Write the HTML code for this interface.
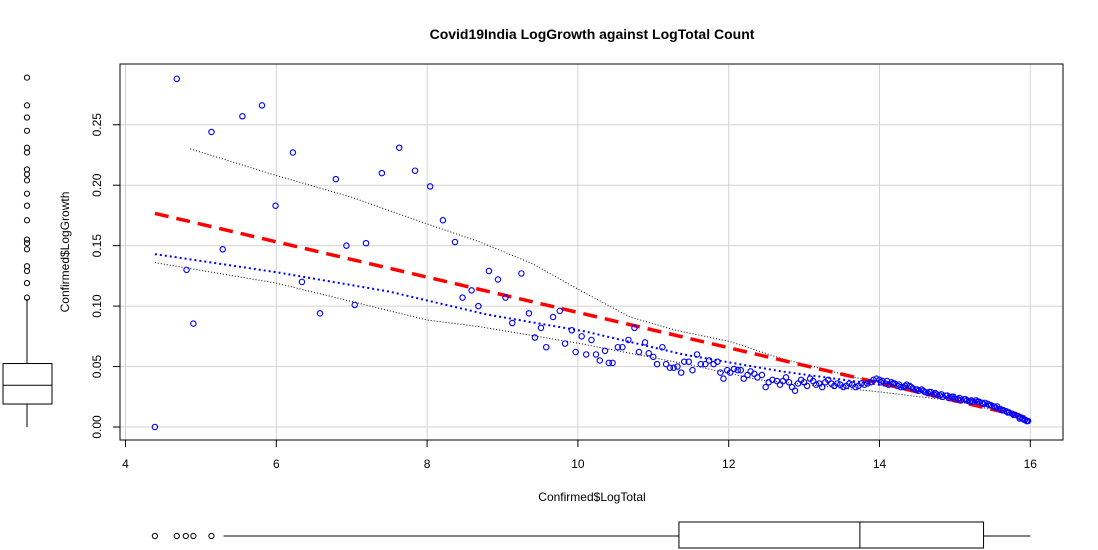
<!DOCTYPE html>
<html><head><meta charset="utf-8"><style>
body{margin:0;background:#fff;}
svg{display:block;font-family:"Liberation Sans",Arial,sans-serif;}
</style></head><body>
<svg id="chart" width="1098" height="550" viewBox="0 0 1098 550" xmlns="http://www.w3.org/2000/svg">
<text x="592" y="39" text-anchor="middle" font-size="14" font-weight="bold">Covid19India LogGrowth against LogTotal Count</text>
<g id="grid"></g>
<g id="lines"></g>
<g id="points"></g>
<rect x="120" y="64" width="943" height="376" fill="none" stroke="#000" stroke-width="1"/>
<g id="axes"></g>
<text x="592" y="501" text-anchor="middle" font-size="12">Confirmed$LogTotal</text>
<text transform="translate(69,252) rotate(-90)" text-anchor="middle" font-size="12">Confirmed$LogGrowth</text>
<g id="boxes"></g>
</svg>
<script>
const xs = [4.39,4.68,4.81,4.90,5.14,5.29,5.55,5.81,5.99,6.22,6.34,6.58,6.79,6.93,7.04,7.19,7.40,7.63,7.84,8.04,8.21,8.37,8.47,8.59,8.68,8.82,8.94,9.04,9.13,9.25,9.35,9.43,9.51,9.58,9.67,9.76,9.83,9.92,9.97,10.05,10.11,10.18,10.24,10.29,10.36,10.41,10.46,10.53,10.59,10.67,10.75,10.81,10.89,10.94,11.00,11.05,11.12,11.17,11.22,11.27,11.32,11.37,11.41,11.47,11.52,11.58,11.63,11.69,11.74,11.80,11.85,11.89,11.93,11.98,12.02,12.07,12.12,12.16,12.20,12.25,12.29,12.34,12.38,12.44,12.49,12.53,12.58,12.64,
12.68,12.72,12.76,12.80,12.84,12.88,12.92,12.96,13.00,13.04,13.08,13.12,13.16,13.20,13.24,13.28,13.32,13.36,13.40,13.44,13.48,13.52,13.56,13.60,13.64,13.68,13.72,13.76,13.80,13.84,13.88,13.92,13.96,14.00,14.04,14.08,14.12,14.16,14.20,14.24,14.28,14.32,14.36,14.40,14.44,14.48,14.52,14.56,14.60,14.64,14.68,14.72,14.76,14.80,14.84,14.88,14.92,14.96,15.00,15.04,15.08,15.12,15.16,15.20,15.24,15.28,15.32,15.36,15.40,15.44,15.48,15.52,15.56,15.60,15.64,15.68,15.72,15.76,15.80,15.84,15.87,15.90,15.93,15.96,15.97,
14.02,14.10,14.18,14.26,14.34,14.42,14.50,14.58,14.66,14.74,14.82,14.90,14.98,15.06,15.14,15.22,15.30,15.38,15.46,15.54,15.62,15.70,15.78,15.86,15.92,15.95];
const ys = [0.000,0.288,0.130,0.0855,0.244,0.147,0.257,0.266,0.183,0.227,0.120,0.094,0.205,0.150,0.101,0.152,0.210,0.231,0.212,0.199,0.171,0.153,0.107,0.113,0.100,0.129,0.122,0.107,0.086,0.127,0.094,0.074,0.082,0.066,0.091,0.096,0.069,0.080,0.062,0.075,0.060,0.072,0.060,0.055,0.063,0.053,0.053,0.066,0.066,0.072,0.082,0.062,0.070,0.061,0.058,0.052,0.066,0.052,0.049,0.049,0.050,0.045,0.054,0.054,0.047,0.060,0.052,0.052,0.055,0.052,0.054,0.045,0.040,0.047,0.045,0.048,0.047,0.047,0.040,0.043,0.046,0.044,0.041,0.043,0.033,0.037,0.039,0.038,
0.035,0.038,0.041,0.037,0.033,0.030,0.036,0.039,0.037,0.034,0.040,0.038,0.035,0.036,0.033,0.037,0.039,0.036,0.034,0.036,0.035,0.033,0.034,0.036,0.035,0.033,0.034,0.036,0.035,0.036,0.037,0.039,0.040,0.039,0.038,0.036,0.035,0.037,0.036,0.034,0.033,0.033,0.035,0.034,0.032,0.031,0.030,0.031,0.029,0.028,0.029,0.027,0.027,0.026,0.025,0.026,0.024,0.025,0.023,0.023,0.022,0.023,0.022,0.021,0.021,0.022,0.021,0.020,0.020,0.019,0.018,0.017,0.017,0.015,0.014,0.013,0.012,0.011,0.010,0.009,0.008,0.007,0.006,0.005,0.005,
0.037,0.038,0.036,0.035,0.034,0.033,0.031,0.030,0.029,0.028,0.027,0.026,0.025,0.024,0.023,0.022,0.021,0.019,0.018,0.016,0.014,0.012,0.010,0.007,0.006,0.005];
const smoothX = [4.39,6,7.5,8.8,10.1,11.4,12.7,14,15,15.5,15.97];
const smoothY = [0.143,0.128,0.112,0.093,0.079,0.060,0.046,0.035,0.025,0.018,0.006];
const upperX = [4.86,6,7,8,8.7,9.4,10.03,10.69,11.3,12.02,12.68,13.74,14.63,15.51,15.95];
const upperY = [0.230,0.208,0.190,0.168,0.153,0.135,0.113,0.091,0.080,0.0706,0.057,0.040,0.028,0.0155,0.0066];
const lowerX = [4.39,6,8,8.7,10.03,11.36,12.4,14,15.07,15.95];
const lowerY = [0.136,0.119,0.0885,0.083,0.069,0.053,0.039,0.029,0.021,0.0066];
const fitEnds = [4.39,15.97];
const fitIntercept = 0.2408;
const fitSlope = -0.0146;
const xTicks = [4,6,8,10,12,14,16];
const yTicks = [0,0.05,0.10,0.15,0.20,0.25];
const yTickLabels = ["0.00","0.05","0.10","0.15","0.20","0.25"];
const yBox = [0.0, 0.019, 0.0345, 0.0525, 0.106];
const yOutliers = [0.289,0.266,0.256,0.245,0.231,0.227,0.213,0.209,0.204,0.193,0.183,0.171,0.155,0.152,0.147,0.133,0.129,0.119,0.107];
const xBox = [5.30, 11.34, 13.74, 15.38, 16.0];
const xOutliers = [4.39,4.68,4.80,4.90,5.14];

const NS="http://www.w3.org/2000/svg";
const px = v => 125.5 + 75.4*(v-4);
const py = v => 427 - 1209*v;
function mk(tag, attrs, parent){const e=document.createElementNS(NS,tag);for(const k in attrs)e.setAttribute(k,attrs[k]);parent.appendChild(e);return e;}
const grid=document.getElementById('grid'), axes=document.getElementById('axes');
xTicks.forEach(t=>{
  const g=mk('line',{x1:px(t),x2:px(t),y1:64,y2:440,stroke:'#d3d3d3','stroke-width':1},grid);
  
  
  const tk=mk('line',{x1:px(t),x2:px(t),y1:440,y2:447,stroke:'#000'},axes);
  
  
  const tx=mk('text',{x:px(t),y:468,'text-anchor':'middle','font-size':12},axes);
  
  
  tx.textContent=t;
});
yTicks.forEach((t,i)=>{
  const g=mk('line',{x1:120,x2:1063,y1:py(t),y2:py(t),stroke:'#d3d3d3','stroke-width':1},grid);
  
  
  const tk=mk('line',{x1:113,x2:120,y1:py(t),y2:py(t),stroke:'#000'},axes);
  
  
  const tx=mk('text',{transform:`translate(101,${py(t)}) rotate(-90)`,'text-anchor':'middle','font-size':12},axes);
  
  
  tx.textContent=yTickLabels[i];
});
const lines=document.getElementById('lines');
function poly(X,Y,attrs,name){
  const pts=X.map((x,i)=>px(x).toFixed(1)+','+py(Y[i]).toFixed(1)).join(' ');
  const p=mk('polyline',Object.assign({points:pts,fill:'none'},attrs),lines);
  
  
}
poly(upperX,upperY,{stroke:'#000','stroke-width':1,'stroke-dasharray':'1,2'},'spread-upper-line');
poly(lowerX,lowerY,{stroke:'#000','stroke-width':1,'stroke-dasharray':'1,2'},'spread-lower-line');
poly(smoothX,smoothY,{stroke:'#0000ff','stroke-width':2,'stroke-dasharray':'2,3'},'smoother-line');
poly(fitEnds,fitEnds.map(x=>fitIntercept+fitSlope*x),{stroke:'#ff0000','stroke-width':3.5,'stroke-dasharray':'14,8'},'regression-line');
const pg=document.getElementById('points');
xs.forEach((x,i)=>{
  const c=mk('circle',{cx:px(x),cy:py(ys[i]),r:2.7,fill:'none',stroke:'#0000ff','stroke-width':1.1},pg);
  
  
});
const bx=document.getElementById('boxes');
const lx=27;
let e;
e=mk('line',{x1:lx,x2:lx,y1:py(yBox[4]),y2:py(yBox[3]),stroke:'#000'},bx);


e=mk('line',{x1:lx,x2:lx,y1:py(yBox[1]),y2:py(yBox[0]),stroke:'#000'},bx);


e=mk('rect',{x:3,y:py(yBox[3]),width:49,height:py(yBox[1])-py(yBox[3]),fill:'none',stroke:'#000'},bx);


e=mk('line',{x1:3,x2:52,y1:py(yBox[2]),y2:py(yBox[2]),stroke:'#000'},bx);


yOutliers.forEach(v=>{
  const c=mk('circle',{cx:lx,cy:py(v),r:2.6,fill:'none',stroke:'#000'},bx);
  
  
});
const by=536;
e=mk('line',{x1:px(xBox[0]),x2:px(xBox[1]),y1:by,y2:by,stroke:'#000'},bx);


e=mk('line',{x1:px(xBox[3]),x2:px(xBox[4]),y1:by,y2:by,stroke:'#000'},bx);


e=mk('rect',{x:px(xBox[1]),y:522,width:px(xBox[3])-px(xBox[1]),height:26,fill:'none',stroke:'#000'},bx);


e=mk('line',{x1:px(xBox[2]),x2:px(xBox[2]),y1:522,y2:548,stroke:'#000'},bx);


xOutliers.forEach(v=>{
  const c=mk('circle',{cx:px(v),cy:by,r:2.6,fill:'none',stroke:'#000'},bx);
  
  
});
</script>
</body></html>
